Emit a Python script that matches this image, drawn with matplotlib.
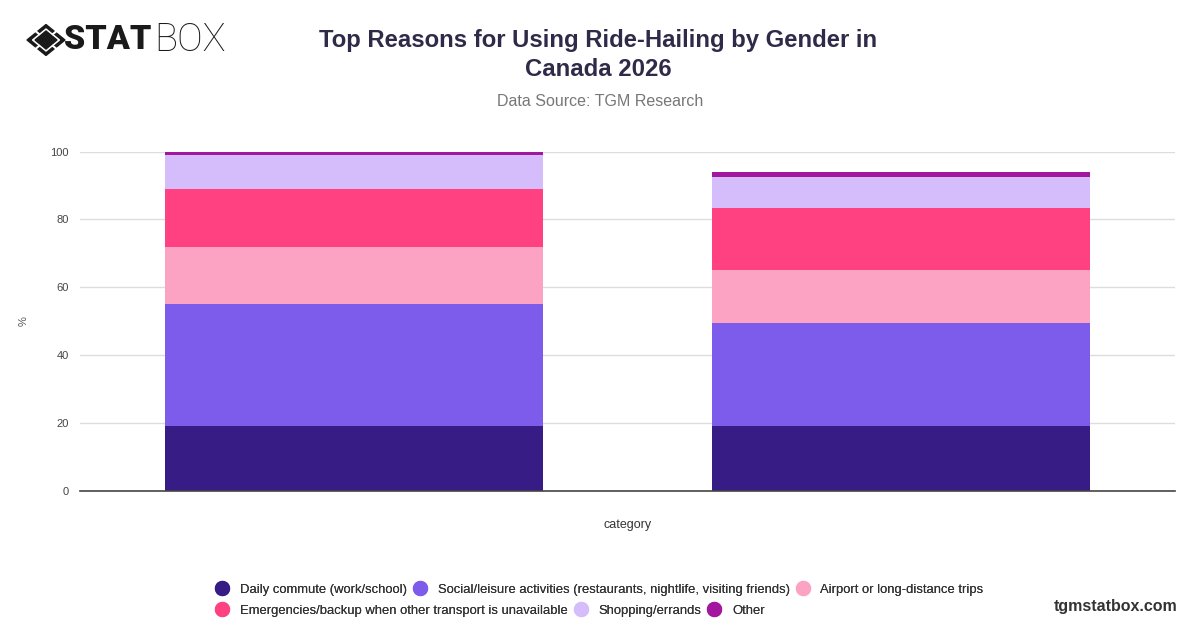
import numpy as np
import matplotlib.pyplot as plt
from matplotlib.patches import Polygon
from matplotlib.lines import Line2D

# chart data
genders = ['Male', 'Female']
reasons = ['Daily commute (work/school)',
           'Social/leisure activities (restaurants, nightlife, visiting friends)',
           'Airport or long-distance trips',
           'Emergencies/backup when other transport is unavailable',
           'Shopping/errands',
           'Other']
male = [19, 36, 17, 17, 10, 1]
female = [19, 30.5, 15.5, 18.5, 9, 1.5]
colors = ['#371c85', '#7d5cec', '#fca3c3', '#ff4081', '#d5bdfb', '#a3179f']
yticks = [0, 20, 40, 60, 80, 100]

plt.rcParams['font.family'] = ['Liberation Sans', 'DejaVu Sans']

W, H = 1200, 628
fig = plt.figure(figsize=(W / 100, H / 100), dpi=100)
fig.patch.set_facecolor('white')

def px(x0, y0, x1, y1):
    return [x0 / W, 1 - y1 / H, (x1 - x0) / W, (y1 - y0) / H]

ax = fig.add_axes(px(80, 151.5, 1175, 491))
values = np.array([male, female])
x = np.arange(len(genders))
bottom = np.zeros(len(genders))
for i, r in enumerate(reasons):
    ax.bar(x, values[:, i], bottom=bottom, width=0.69, color=colors[i],
           linewidth=0, label=r, zorder=3)
    bottom += values[:, i]

ax.set_xlim(-0.5, 1.5)
ax.set_ylim(0, 100)
ax.set_yticks(yticks)
ax.set_xticks([])
ax.grid(axis='y', color='#dddddd', linewidth=1, zorder=0)
for s in ['top', 'right', 'left']:
    ax.spines[s].set_visible(False)
ax.spines['bottom'].set_color('#444444')
ax.spines['bottom'].set_linewidth(1.2)
ax.spines['bottom'].set_zorder(4)
ax.tick_params(axis='y', length=0, pad=8, labelsize=8, labelcolor='#444444')
ax.set_ylabel('%', fontsize=8, color='#555555', labelpad=16)
ax.set_xlabel('category', fontsize=9, color='#333333', labelpad=20)

# titles
fig.text(598 / W, 1 - 41 / H, 'Top Reasons for Using Ride-Hailing by Gender in',
         ha='center', va='center', fontsize=17.2, fontweight='bold', color='#2e2a48')
fig.text(598 / W, 1 - 70 / H, 'Canada 2026',
         ha='center', va='center', fontsize=17.2, fontweight='bold', color='#2e2a48')
fig.text(600 / W, 1 - 102 / H, 'Data Source: TGM Research',
         ha='center', va='center', fontsize=11.5, color='#777777')

# legend, two rows flowing left to right
handles = [Line2D([], [], marker='o', linestyle='none', markersize=10,
                  markerfacecolor=c, markeredgecolor=c) for c in colors]
rows = [(0, 3, 589.5), (3, 6, 610.5)]
for a, b, yy in rows:
    leg = fig.legend(handles[a:b], reasons[a:b], loc='center left',
                     bbox_to_anchor=(208 / W, 1 - yy / H), ncol=b - a,
                     frameon=False, fontsize=9.4, handletextpad=0.75,
                     columnspacing=0.4, handlelength=1.2, borderpad=0,
                     labelcolor='#333333')
    fig.add_artist(leg)

fig.text(1177 / W, 1 - 606 / H, 'tgmstatbox.com', ha='right', va='center',
         fontsize=11.5, fontweight='bold', color='#333333')

# logo
lax = fig.add_axes(px(26, 24, 66, 56))
lax.set_xlim(-20, 20)
lax.set_ylim(-16, 16)
lax.axis('off')
lax.add_patch(Polygon([(-19, 0), (0, 15.5), (19, 0), (0, -15.5)], color='#1a1a1a'))
lax.add_patch(Polygon([(-13.5, 0), (0, 11), (13.5, 0), (0, -11)], color='white'))
lax.add_patch(Polygon([(-11, 0), (0, 9), (11, 0), (0, -9)], color='#1a1a1a'))
for sx, sy in [(-1, 1), (1, 1), (1, -1), (-1, -1)]:
    lax.plot([sx * 7, sx * 16], [sy * 6, sy * 13.5], color='white', lw=1.5)
fig.text(151 / W, 1 - 40 / H, 'STAT', ha='right', va='center', fontsize=24.5,
         fontweight='black', family='Roboto', color='#1a1a1a')
fig.text(154 / W, 1 - 40 / H, 'BOX', ha='left', va='center', fontsize=27.5,
         fontweight='light', family='Roboto', color='#1a1a1a')

fig.savefig('out.png', dpi=100)
